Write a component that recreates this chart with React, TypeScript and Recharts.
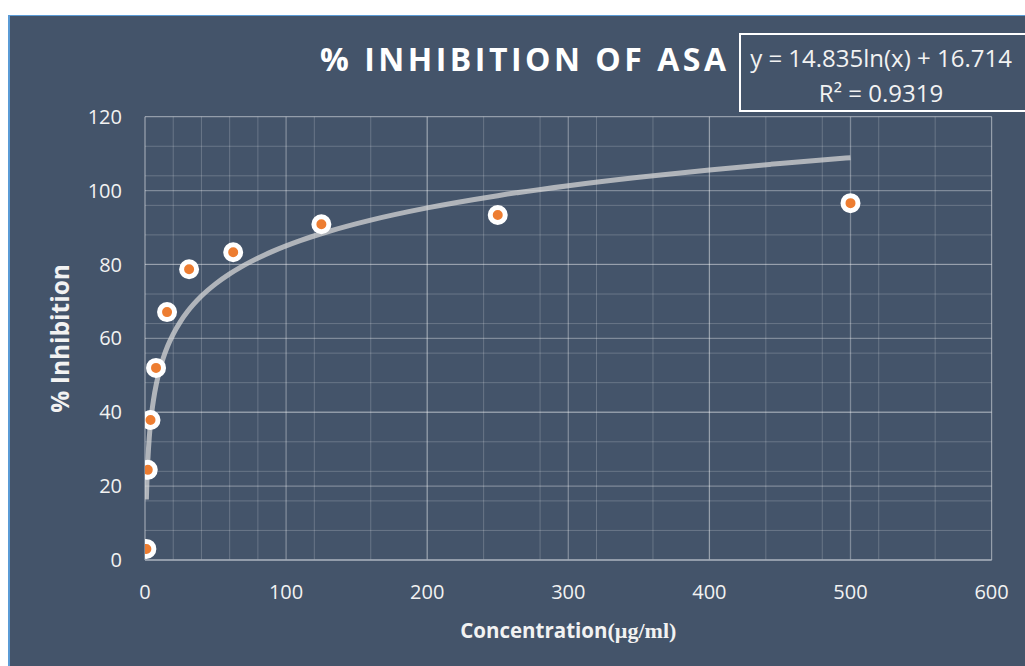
import React from 'react';
import { ComposedChart, Scatter, Line, XAxis, YAxis, CartesianGrid, Label } from 'recharts';

// Measured data (concentration in µg/ml, % inhibition)
const CONCENTRATION = [0.977, 1.953, 3.906, 7.8125, 15.625, 31.25, 62.5, 125, 250, 500];
const INHIBITION = [3.0, 24.4, 37.9, 52.0, 67.1, 78.7, 83.3, 90.9, 93.4, 96.6];

// Logarithmic trendline as printed on the chart: y = 14.835 ln(x) + 16.714
const TREND_A = 14.835;
const TREND_B = 16.714;
const TREND_R2 = '0.9319';
const TREND_X = [0.977, 1.2, 1.5, 2, 2.5, 3, 4, 5, 6, 8, 10, 13, 16, 20, 25, 30, 40, 50, 60, 75, 90, 110, 130, 160, 200, 250, 300, 350, 400, 450, 500];

const X_TICKS = [0, 100, 200, 300, 400, 500, 600];
const Y_TICKS = [0, 20, 40, 60, 80, 100, 120];
const X_MINOR = [0, 20, 40, 60, 80, 100, 120, 140, 160, 180, 200, 220, 240, 260, 280, 300, 320, 340, 360, 380, 400, 420, 440, 460, 480, 500, 520, 540, 560, 580, 600];
const Y_MINOR = [0, 4, 8, 12, 16, 20, 24, 28, 32, 36, 40, 44, 48, 52, 56, 60, 64, 68, 72, 76, 80, 84, 88, 92, 96, 100, 104, 108, 112, 116, 120];

const TITLE = '% INHIBITION OF ASA';
const X_TITLE_A = 'Concentration';
const X_TITLE_B = '(µg/ml)';
const Y_TITLE = '% Inhibition';

const points = CONCENTRATION.map((x, i) => ({ x, y: INHIBITION[i] }));
const trend = TREND_X.map((x) => ({ x, y: TREND_A * Math.log(x) + TREND_B }));

const BG = '#44546A';
const TEXT = '#F2F2F2';
const SANS = "'Open Sans', 'DejaVu Sans', sans-serif";

const Marker = (props: any) => {
  if (props.cx == null || props.cy == null) return null;
  return <circle cx={props.cx} cy={props.cy} r={7.5} fill="#ED7D31" stroke="#FFFFFF" strokeWidth={5} />;
};

export default function App() {
  return (
    <div
      style={{
        position: 'fixed',
        left: 8,
        top: 15,
        width: 1017,
        height: 651,
        background: BG,
        boxShadow: 'inset 2px 1px 0 #5B9BD5',
        overflow: 'hidden',
      }}
    >
      <ComposedChart
        width={1017}
        height={651}
        margin={{ top: 101.7, right: 33.4, bottom: 0, left: 0 }}
        style={{ position: 'absolute', left: 0, top: 0 }}
      >
        <CartesianGrid
          stroke="rgba(255,255,255,0.2)"
          strokeWidth={1}
          verticalValues={X_MINOR}
          horizontalValues={Y_MINOR}
        />
        <CartesianGrid
          stroke="rgba(255,255,255,0.32)"
          strokeWidth={1.3}
          verticalValues={X_TICKS}
          horizontalValues={Y_TICKS}
        />
        <XAxis
          type="number"
          dataKey="x"
          domain={[0, 600]}
          ticks={X_TICKS}
          height={106}
          tickLine={false}
          tickSize={0}
          tickMargin={25}
          axisLine={{ stroke: '#9AA3B0', strokeWidth: 1.5 }}
          tick={{ fill: TEXT, fontSize: 20, fontFamily: SANS }}
          allowDataOverflow
        >
          <Label
            content={(p: any) => {
              const vb = p.viewBox || {};
              return (
                <text
                  x={vb.x + vb.width / 2}
                  y={vb.y + 78}
                  textAnchor="middle"
                  fill={TEXT}
                  fontWeight="bold"
                >
                  <tspan fontFamily={SANS} fontSize={20.5}>{X_TITLE_A}</tspan>
                  <tspan fontFamily="'Liberation Serif', 'DejaVu Serif', serif" fontSize={22}>{X_TITLE_B}</tspan>
                </text>
              );
            }}
          />
        </XAxis>
        <YAxis
          type="number"
          dataKey="y"
          domain={[0, 120]}
          ticks={Y_TICKS}
          width={137}
          tickLine={false}
          tickSize={0}
          tickMargin={23}
          axisLine={false}
          tick={{ fill: TEXT, fontSize: 20, fontFamily: SANS }}
        >
          <Label
            content={(p: any) => {
              const vb = p.viewBox || {};
              const cx = vb.x + 52;
              const cy = vb.y + vb.height / 2;
              return (
                <text
                  x={cx}
                  y={cy}
                  transform={`rotate(-90, ${cx}, ${cy})`}
                  textAnchor="middle"
                  dominantBaseline="central"
                  fill={TEXT}
                  fontSize={24.5}
                  fontWeight="bold"
                  fontFamily={SANS}
                >
                  {Y_TITLE}
                </text>
              );
            }}
          />
        </YAxis>
        <Scatter data={points} dataKey="y" shape={Marker} isAnimationActive={false} />
        <Line
          data={trend}
          dataKey="y"
          type="monotone"
          stroke="#D9D9D9"
          strokeOpacity={0.72}
          strokeWidth={5}
          dot={false}
          activeDot={false}
          isAnimationActive={false}
        />
      </ComposedChart>

      <div
        style={{
          position: 'absolute',
          left: 312,
          top: 25,
          lineHeight: '38px',
          fontFamily: SANS,
          fontWeight: 'bold',
          fontSize: 32,
          letterSpacing: '3.5px',
          color: '#FFFFFF',
          whiteSpace: 'nowrap',
        }}
      >
        {TITLE}
      </div>

      <div
        style={{
          position: 'absolute',
          left: 731,
          top: 18,
          width: 300,
          height: 79,
          boxSizing: 'border-box',
          border: '2px solid #FFFFFF',
          background: BG,
          color: TEXT,
          fontFamily: SANS,
          fontSize: 24,
        }}
      >
        <div style={{ position: 'absolute', left: 0, top: 6, width: 280, textAlign: 'center', lineHeight: '34px', whiteSpace: 'nowrap' }}>
          {`y = ${TREND_A}ln(x) + ${TREND_B}`}
        </div>
        <div style={{ position: 'absolute', left: 0, top: 41, width: 280, textAlign: 'center', lineHeight: '34px', whiteSpace: 'nowrap' }}>
          {`R² = ${TREND_R2}`}
        </div>
      </div>
    </div>
  );
}
